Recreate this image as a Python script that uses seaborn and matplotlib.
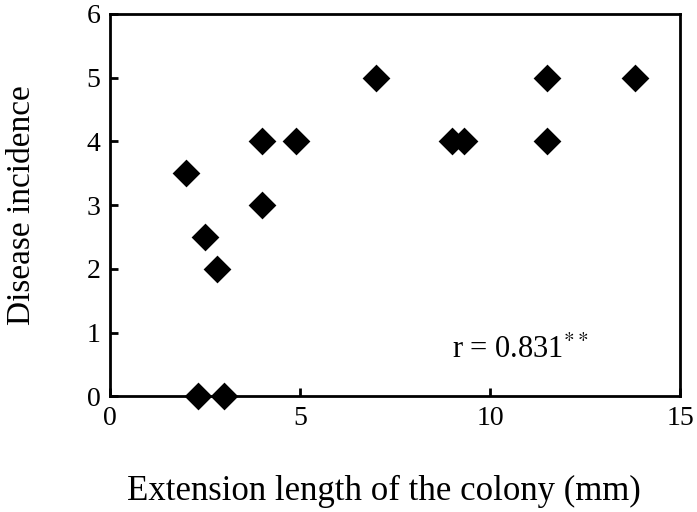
import matplotlib
matplotlib.use("Agg")
import matplotlib.pyplot as plt
import seaborn as sns
import pandas as pd

# values
extension_mm = [2.0, 2.5, 2.8, 2.3, 3.0, 4.0, 4.0, 4.9, 7.0, 9.0, 9.3, 11.5, 11.5, 13.8]
incidence = [3.5, 2.5, 2.0, 0, 0, 4, 3, 4, 5, 4, 4, 5, 4, 5]
x_ticks = [0, 5, 10, 15]
y_ticks = [0, 1, 2, 3, 4, 5, 6]

df = pd.DataFrame({"ext": extension_mm, "inc": incidence})

sns.set_theme(style="ticks")
plt.rcParams['font.family'] = ['Liberation Serif', 'DejaVu Serif']
plt.rcParams['mathtext.fontset'] = 'stix'
plt.rcParams['text.color'] = 'black'
plt.rcParams['axes.labelcolor'] = 'black'

fig = plt.figure(figsize=(6.97, 5.12), dpi=100)
ax = fig.add_axes([0.158, 0.226, 0.818, 0.747])

sns.scatterplot(data=df, x="ext", y="inc", marker="D", s=200, color="black",
                edgecolor="black", linewidth=0, ax=ax, clip_on=False, zorder=3)

ax.set_xlim(0, 15)
ax.set_ylim(0, 6)
ax.set_xticks(x_ticks)
ax.set_yticks(y_ticks)
ax.tick_params(direction="in", length=6, width=2, labelsize=20, colors="black", pad=7)
for sp in ax.spines.values():
    sp.set_linewidth(2)
    sp.set_color("black")

ax.set_xlabel("Extension length of the colony (mm)", fontsize=25, va="center")
ax.set_ylabel("Disease incidence", fontsize=24, va="center")
ax.xaxis.set_label_coords(0.48, -0.25)
ax.yaxis.set_label_coords(-0.155, 0.5)

ax.text(9.0, 0.6, r"r = 0.831$^{**}$", fontsize=22, ha="left", va="baseline")

fig.savefig("out.png", dpi=100)
